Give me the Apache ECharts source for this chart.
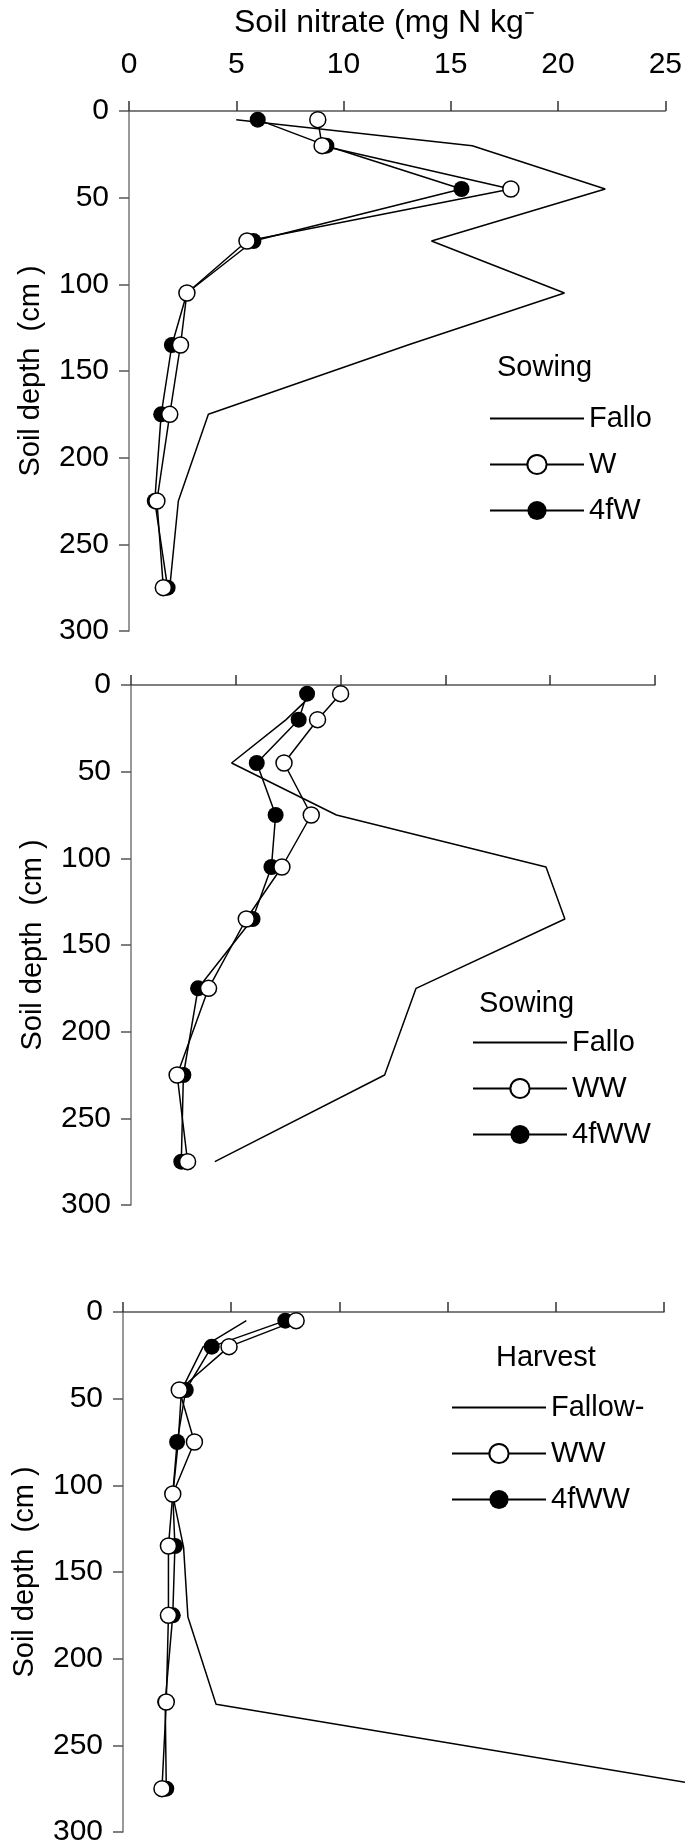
<!DOCTYPE html>
<html>
<head>
<meta charset="utf-8">
<script src="https://cdn.jsdelivr.net/npm/echarts@6/dist/echarts.min.js"></script>
<style>
html, body { margin: 0; padding: 0; background: #fff; }
#chart { width: 685px; height: 1847px; }
</style>
</head>
<body>
<div id="chart"></div>
<script>
var depths = [5, 20, 45, 75, 105, 135, 175, 225, 275];

// top panel - sowing (W)
var fallow1 = [5.0, 16.0, 22.2, 14.1, 20.3, 13.0, 3.7, 2.3, 1.9];
var w1 = [8.8, 9.0, 17.8, 5.5, 2.7, 2.4, 1.9, 1.3, 1.6];
var fw1 = [6.0, 9.2, 15.5, 5.8, 2.7, 2.0, 1.5, 1.2, 1.8];

// middle panel - sowing (WW)
var fallow2 = [8.7, 7.4, 4.8, 9.8, 19.8, 20.7, 13.6, 12.1, 4.0];
var ww2 = [10.0, 8.9, 7.3, 8.6, 7.2, 5.5, 3.7, 2.2, 2.7];
var fww2 = [8.4, 8.0, 6.0, 6.9, 6.7, 5.8, 3.2, 2.5, 2.4];

// bottom panel - harvest
var fallow3 = [5.7, 3.7, 2.7, 2.55, 2.3, 2.8, 3.0, 4.3, 28.5];
var ww3 = [8.0, 4.9, 2.6, 3.3, 2.3, 2.1, 2.1, 2.0, 1.8];
var fww3 = [7.5, 4.1, 2.9, 2.5, 2.3, 2.4, 2.3, 1.95, 2.0];

var FONT = "'Liberation Sans', Arial, sans-serif";
var chart = echarts.init(document.getElementById('chart'));

function pairs(vals) {
    return vals.map(function (v, i) { return [v, depths[i]]; });
}

// grid 4 is the bottom panel again, stretched to the right edge of the
// page (same px per unit), so the fallow line runs past the 25 tick
var grids = [
    { left: 129, top: 111, width: 537, height: 520 },
    { left: 131, top: 685, width: 524, height: 520 },
    { left: 123, top: 1312, width: 541, height: 523 },
    { left: 123, top: 1312, width: 562, height: 523 }
];

function xAxis(i, showLabel) {
    return {
        gridIndex: i, type: 'value', position: 'top',
        min: 0, max: 25, interval: 5,
        axisLine: { onZero: false, lineStyle: { color: '#555', width: 1.5 } },
        axisTick: { length: 10, lineStyle: { color: '#333', width: 1.5 } },
        axisLabel: { show: showLabel, margin: 31, fontSize: 30, color: '#000', fontFamily: FONT },
        splitLine: { show: false }
    };
}

function yAxis(i) {
    return {
        gridIndex: i, type: 'value', inverse: true,
        min: 0, max: 300, interval: 50,
        name: 'Soil depth  (cm )', nameLocation: 'middle', nameGap: 84,
        nameTextStyle: { fontSize: 29, color: '#000', fontFamily: FONT },
        axisLine: { onZero: false, lineStyle: { color: '#777', width: 1.5 } },
        axisTick: { length: 10, lineStyle: { color: '#555', width: 1.5 } },
        axisLabel: { margin: 20, fontSize: 30, color: '#000', fontFamily: FONT },
        splitLine: { show: false }
    };
}

function plain(name, vals, i) {
    return {
        name: name, type: 'line', xAxisIndex: i, yAxisIndex: i,
        data: pairs(vals), symbol: 'none',
        lineStyle: { color: '#000', width: 1.5 }, z: 2
    };
}

function dots(name, vals, i, filled) {
    return {
        name: name, type: 'line', xAxisIndex: i, yAxisIndex: i,
        data: pairs(vals), symbol: 'circle', symbolSize: 16, clip: false,
        lineStyle: { color: '#000', width: 1.5 },
        itemStyle: filled ? { color: '#000' } : { color: '#fff', borderColor: '#000', borderWidth: 1.5 },
        z: filled ? 3 : 4
    };
}

function legend(left, top, names) {
    return {
        orient: 'vertical', left: left, top: top,
        itemWidth: 94, itemHeight: 24, itemGap: 17,
        selectedMode: false,
        textStyle: { fontSize: 29, color: '#000', fontFamily: FONT },
        data: [
            { name: names[0], itemStyle: { color: 'transparent', borderColor: 'transparent' } },
            names[1], names[2]
        ]
    };
}

function label(text, x, y, size) {
    return {
        type: 'text', x: x, y: y,
        style: { text: text, font: size + 'px ' + FONT, fill: '#000', textAlign: 'left', textVerticalAlign: 'middle' }
    };
}

chart.setOption({
    animation: false,
    grid: grids,
    xAxis: [
        xAxis(0, true), xAxis(1, false), xAxis(2, false),
        { gridIndex: 3, type: 'value', min: 0, max: 25 * 562 / 541, show: false }
    ],
    yAxis: [
        yAxis(0), yAxis(1), yAxis(2),
        { gridIndex: 3, type: 'value', inverse: true, min: 0, max: 300, show: false }
    ],
    legend: [
        legend(484, 399, ['Fallo', 'W', '4fW']),
        legend(467, 1023, ['Fallo', 'WW', '4fWW']),
        legend(446, 1388, ['Fallow-', 'WW', '4fWW'])
    ],
    graphic: [
        label('Soil nitrate (mg N kg\u207B', 234, 23, 32),
        label('Sowing', 497, 368, 29),
        label('Sowing', 479, 1004, 29),
        label('Harvest', 496, 1358, 29)
    ],
    series: [
        plain('Fallo', fallow1, 0),
        dots('4fW', fw1, 0, true),
        dots('W', w1, 0, false),
        plain('Fallo', fallow2, 1),
        dots('4fWW', fww2, 1, true),
        dots('WW', ww2, 1, false),
        plain('Fallow-', fallow3, 3),
        dots('4fWW', fww3, 2, true),
        dots('WW', ww3, 2, false)
    ]
});
</script>
</body>
</html>
